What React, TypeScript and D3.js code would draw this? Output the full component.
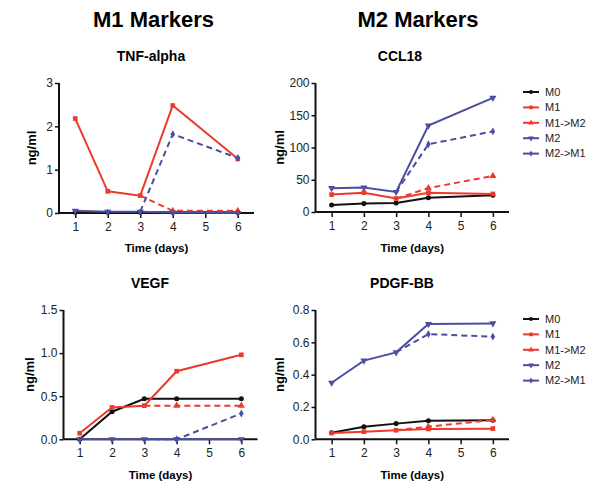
import React, { useEffect, useRef } from "react";
import * as d3 from "d3";

const days = [1, 2, 3, 4, 6];
const xTicks = [1, 2, 3, 4, 5, 6];
const seriesNames = ["M0", "M1", "M1->M2", "M2", "M2->M1"];

// TNF-alpha (ng/ml)
const tnfM0 = [0.02, 0.02, 0.02, 0.02, 0.02];
const tnfM1 = [2.18, 0.5, 0.4, 2.48, 1.25];
const tnfM1toM2 = [null, null, 0.4, 0.05, 0.05];
const tnfM2 = [0.05, 0.03, 0.03, 0.01, 0.0];
const tnfM2toM1 = [null, null, 0.03, 1.82, 1.27];
const tnfTicks = [0, 1, 2, 3];

// CCL18 (ng/ml)
const cclM0 = [11, 13, 14, 22, 26];
const cclM1 = [27, 30, 21, 30, 28];
const cclM1toM2 = [null, null, 21, 37, 56];
const cclM2 = [37, 38, 31, 134, 177];
const cclM2toM1 = [null, null, 31, 105, 125];
const cclTicks = [0, 50, 100, 150, 200];

// VEGF (ng/ml)
const vegfM0 = [0.0, 0.32, 0.47, 0.47, 0.47];
const vegfM1 = [0.07, 0.37, 0.39, 0.79, 0.98];
const vegfM1toM2 = [null, null, 0.39, 0.39, 0.39];
const vegfM2 = [0, 0, 0, 0, 0];
const vegfM2toM1 = [null, null, 0, 0, 0.3];
const vegfTicks = [0, 0.5, 1.0, 1.5];

// PDGF-BB (ng/ml)
const pdgfM0 = [0.041, 0.078, 0.097, 0.115, 0.118];
const pdgfM1 = [0.039, 0.047, 0.056, 0.064, 0.066];
const pdgfM1toM2 = [null, null, 0.056, 0.078, 0.12];
const pdgfM2 = [0.35, 0.487, 0.538, 0.713, 0.717];
const pdgfM2toM1 = [null, null, 0.538, 0.651, 0.635];
const pdgfTicks = [0, 0.2, 0.4, 0.6, 0.8];

const RED = "#ec3a2c";
const BLUE = "#4b4ea3";
const FONT = "'Liberation Sans', Arial, Helvetica, sans-serif";

const styles = [
  { color: "#111", dashed: false, symbol: d3.symbolCircle, size: 20, rotate: 0 },
  { color: RED, dashed: false, symbol: d3.symbolSquare, size: 22, rotate: 0 },
  { color: RED, dashed: true, symbol: d3.symbolTriangle, size: 22, rotate: 0 },
  { color: BLUE, dashed: false, symbol: d3.symbolTriangle, size: 22, rotate: 180 },
  { color: BLUE, dashed: true, symbol: d3.symbolDiamond, size: 18, rotate: 0 },
];

type Panel = {
  title: string;
  values: (number | null)[][];
  ticks: number[];
  fmt: string;
  x0: number; x1: number; y0: number; y1: number;
  titleX: number; titleY: number;
  ylabX: number; xlabY: number;
  legendY?: number;
};

const panels: Panel[] = [
  { title: "TNF-alpha", values: [tnfM0, tnfM1, tnfM1toM2, tnfM2, tnfM2toM1], ticks: tnfTicks, fmt: "d",
    x0: 59, x1: 254, y0: 213, y1: 83, titleX: 151, titleY: 61, ylabX: 36, xlabY: 252 },
  { title: "CCL18", values: [cclM0, cclM1, cclM1toM2, cclM2, cclM2toM1], ticks: cclTicks, fmt: "d",
    x0: 315.5, x1: 509, y0: 212, y1: 83, titleX: 400, titleY: 61, ylabX: 284, xlabY: 252, legendY: 92 },
  { title: "VEGF", values: [vegfM0, vegfM1, vegfM1toM2, vegfM2, vegfM2toM1], ticks: vegfTicks, fmt: ".1f",
    x0: 63.5, x1: 257.5, y0: 439.3, y1: 310, titleX: 150, titleY: 288, ylabX: 34, xlabY: 479 },
  { title: "PDGF-BB", values: [pdgfM0, pdgfM1, pdgfM1toM2, pdgfM2, pdgfM2toM1], ticks: pdgfTicks, fmt: ".1f",
    x0: 315.5, x1: 509, y0: 439.3, y1: 310, titleX: 402, titleY: 288, ylabX: 284, xlabY: 479, legendY: 319 },
];

const App = () => {
  const svgRef = useRef<SVGSVGElement | null>(null);

  useEffect(() => {
    const svg = d3.select(svgRef.current);
    svg.selectAll("*").remove();

    svg.append("rect").attr("width", 604).attr("height", 501).attr("fill", "#fff");

    // column headings
    [["M1 Markers", 153.5], ["M2 Markers", 418]].forEach(([t, x]) => {
      svg.append("text").attr("x", x as number).attr("y", 27).attr("text-anchor", "middle")
        .attr("font-family", FONT).attr("font-weight", "bold").attr("font-size", 22).text(t as string);
    });

    panels.forEach((p) => {
      const g = svg.append("g");
      const x = d3.scaleLinear().domain([0.5, 6.5]).range([p.x0, p.x1]);
      const y = d3.scaleLinear().domain([0, p.ticks[p.ticks.length - 1]]).range([p.y0, p.y1]);

      // Y axis
      const ya = g.append("g").attr("transform", `translate(${p.x0},0)`)
        .call(d3.axisLeft(y).tickValues(p.ticks).tickSize(4).tickPadding(2).tickFormat(d3.format(p.fmt)));
      // X axis
      const xa = g.append("g").attr("transform", `translate(0,${p.y0})`)
        .call(d3.axisBottom(x).tickValues(xTicks).tickSize(5).tickPadding(4).tickFormat(d3.format("d")));
      [ya, xa].forEach((a) => {
        a.select(".domain").attr("stroke", "#111").attr("stroke-width", 2);
        a.selectAll(".tick line").attr("stroke", "#111").attr("stroke-width", 1.5);
        a.selectAll(".tick text").attr("font-family", FONT).attr("font-size", 12).attr("fill", "#222");
      });
      ya.select(".domain").attr("d", `M0,${p.y0}V${p.y1}`);
      xa.select(".domain").attr("d", `M${p.x0},0H${p.x1}`);

      // lines
      p.values.forEach((vals, i) => {
        const s = styles[i];
        const pts = days.map((d, j) => ({ d, v: vals[j] }));
        const line = d3.line<{ d: number; v: number | null }>()
          .defined((q) => q.v !== null)
          .x((q) => x(q.d))
          .y((q) => y(q.v as number));
        g.append("path").datum(pts).attr("d", line).attr("fill", "none")
          .attr("stroke", s.color).attr("stroke-width", 2)
          .attr("stroke-dasharray", s.dashed ? "6,4" : null);
      });

      // markers (transition series start at the parent's point, no marker there)
      p.values.forEach((vals, i) => {
        const s = styles[i];
        const first = vals.findIndex((v) => v !== null);
        days.forEach((d, j) => {
          const v = vals[j];
          if (v === null) return;
          if (s.dashed && j === first) return;
          g.append("path")
            .attr("d", d3.symbol().type(s.symbol).size(s.size)())
            .attr("transform", `translate(${x(d)},${y(v)}) rotate(${s.rotate})`)
            .attr("fill", s.color);
        });
      });

      // titles
      g.append("text").attr("x", p.titleX).attr("y", p.titleY).attr("text-anchor", "middle")
        .attr("font-family", FONT).attr("font-weight", "bold").attr("font-size", 14).text(p.title);
      g.append("text").attr("x", (p.x0 + p.x1) / 2).attr("y", p.xlabY).attr("text-anchor", "middle")
        .attr("font-family", FONT).attr("font-weight", "bold").attr("font-size", 11.5).text("Time (days)");
      g.append("text")
        .attr("transform", `translate(${p.ylabX},${(p.y0 + p.y1) / 2}) rotate(-90)`)
        .attr("text-anchor", "middle")
        .attr("font-family", FONT).attr("font-weight", "bold").attr("font-size", 13).text("ng/ml");

      // legend
      if (p.legendY !== undefined) {
        const lg = g.append("g").attr("transform", `translate(523,${p.legendY})`);
        seriesNames.forEach((name, i) => {
          const s = styles[i];
          const row = lg.append("g").attr("transform", `translate(0,${i * 15.4})`);
          row.append("line").attr("x1", 0).attr("x2", 16).attr("stroke", s.color).attr("stroke-width", 2);
          row.append("path")
            .attr("d", d3.symbol().type(s.symbol).size(s.size * 0.6)())
            .attr("transform", `translate(8,0) rotate(${s.rotate})`)
            .attr("fill", s.color);
          row.append("text").attr("x", 22).attr("y", 0).attr("dy", "0.35em")
            .attr("font-family", FONT).attr("font-size", 11).attr("fill", "#222").text(name);
        });
      }
    });
  }, []);

  return (
    <svg ref={svgRef} width={604} height={501}
      style={{ position: "absolute", left: 0, top: 0, display: "block" }} />
  );
};

export default App;
